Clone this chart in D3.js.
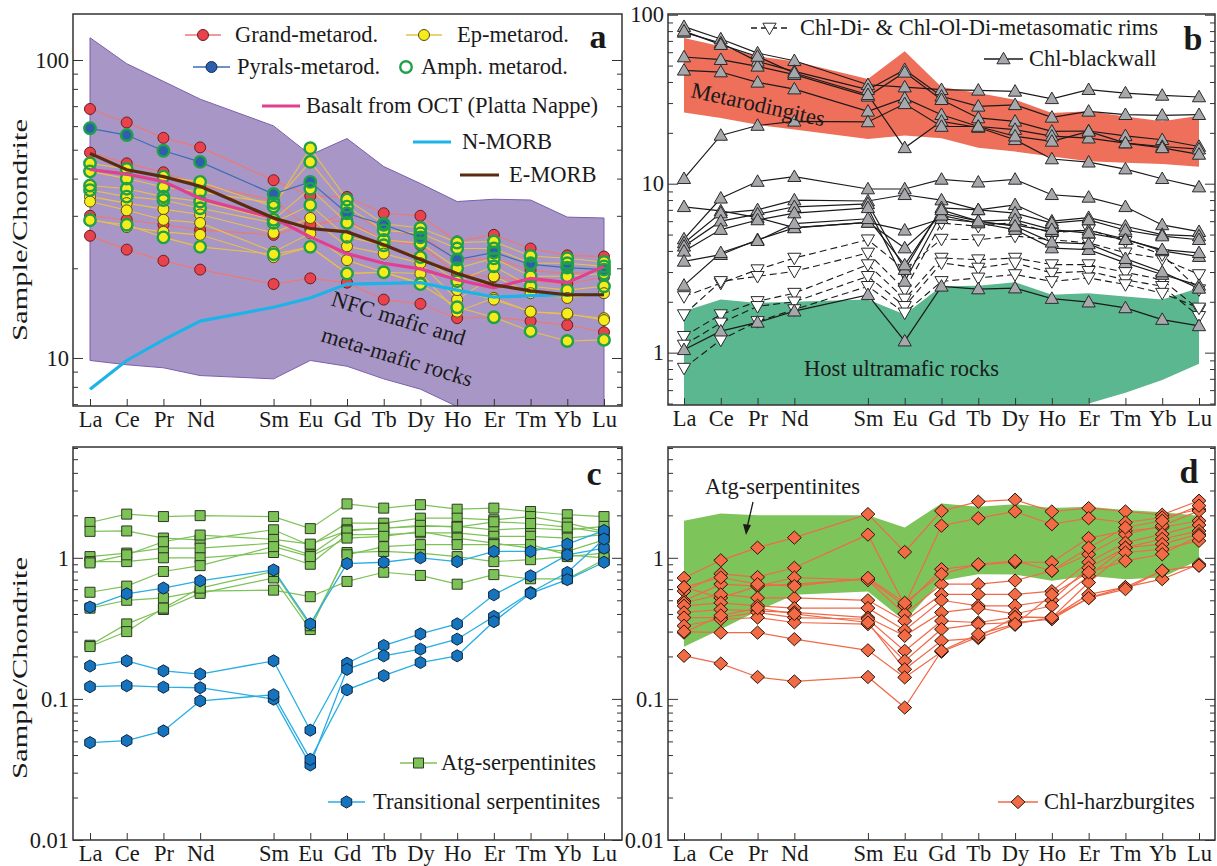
<!DOCTYPE html>
<html><head><meta charset="utf-8">
<script src="https://cdn.jsdelivr.net/npm/d3@7"></script>
<style>
body{margin:0;background:#fff}
svg text{font-family:"Liberation Serif","Times New Roman",serif;fill:#1a1a1a}
</style>
</head><body>
<svg id="chart" width="1217" height="866"></svg>
<script>
// ---------- categories ----------
const REE = ["La","Ce","Pr","Nd","Sm","Eu","Gd","Tb","Dy","Ho","Er","Tm","Yb","Lu"];
const REE_POS = [0,1,2,3,5,6,7,8,9,10,11,12,13,14];

// ---------- panel a ----------
const aEnvUpper = [118.8,97.2,84.8,73.9,60.1,48.0,54.5,43.9,38.5,33.5,34.1,33.9,29.7,29.5];
const aEnvLower = [9.81,9.49,9.27,8.73,8.51,9.81,9.38,8.51,7.86,6.87,5.0,5.0,5.0,5.0];
const aGrand = [
  [68.5,61.7,54.8,50.9,39.5,35.0,34.7,30.6,30.0,24.6,25.9,23.3,22.1,21.9],
  [48.9,45.0,42.0,38.0,33.9,27.2,31.0,26.9,25.9,21.3,21.6,19.7,19.2,19.7],
  [30.0,29.1,28.0,26.9,25.9,28.0,29.0,24.9,23.9,19.2,18.7,18.2,17.7,18.7],
  [25.7,23.1,21.2,19.8,17.7,18.5,17.9,15.7,15.2,13.6,13.7,13.3,12.9,12.2]
];
const aPyrals = [
  [59.0,56.0,49.6,45.5,35.5,39.0,30.6,28.0,25.4,21.4,22.6,20.6,20.1,19.8]
];
const aEp = [
  [45.0,43.1,40.6,39.0,32.2,50.6,34.0,28.2,27.3,24.4,24.6,22.0,21.6,21.0],
  [42.3,40.0,37.5,36.1,33.1,45.5,32.2,26.8,26.2,23.3,23.3,20.8,20.8,20.3],
  [37.9,37.0,34.8,33.5,29.1,37.0,28.4,24.9,24.3,20.0,21.6,18.8,18.8,19.2],
  [36.6,34.8,33.9,31.8,28.4,32.6,25.5,23.9,21.8,18.1,20.3,17.4,16.9,17.4],
  [34.8,33.1,31.6,30.3,26.3,29.5,23.7,22.4,20.8,15.7,18.8,16.5,15.9,16.5],
  [33.5,31.3,29.1,28.4,22.7,26.2,21.3,19.4,19.2,14.3,15.9,14.3,14.0,13.6],
  [29.2,27.5,26.5,25.9,21.8,23.6,19.2,19.4,17.9,16.9,15.7,14.3,14.1,13.4],
  [29.0,28.0,25.4,23.6,22.3,23.6,19.2,19.4,17.7,14.8,13.7,12.3,11.4,11.5]
];
const aAmph = [
  [59.0,56.0,49.6,45.5,35.5,39.0,30.6,28.0,25.4,21.4,22.6,20.6,20.1,19.8],
  [45.0,43.1,40.6,39.0,32.2,50.6,34.0,28.2,27.3,24.4,24.6,22.0,21.6,21.0],
  [42.3,40.0,37.5,36.1,33.1,45.5,32.2,26.8,26.2,23.3,23.3,20.8,20.8,20.3],
  [37.9,37.0,34.8,33.5,29.1,37.0,28.4,24.9,24.3,20.0,21.6,18.8,18.8,19.2],
  [36.6,34.8,33.9,31.8,28.4,32.6,25.5,23.9,21.8,18.1,20.3,17.4,16.9,17.4],
  [29.0,28.0,25.4,23.6,22.3,23.6,19.2,19.4,17.7,14.8,13.7,12.3,11.4,11.5]
];
const aOCT   = [42.9,41.4,39.1,34.3,29.5,25.5,22.4,20.8,19.9,18.3,17.2,18.5,17.9,20.3];
const aNMORB = [7.86,9.81,11.5,13.3,14.8,15.9,17.7,17.8,17.9,16.9,16.0,16.2,16.3,16.3];
const aEMORB = [48.6,42.8,40.6,37.7,29.5,27.2,26.5,24.0,21.4,19.2,17.6,16.8,16.3,16.3];
const aTicksMajor = [10,100];

// ---------- panel b ----------
const bRodUpper = [72.8,65,56.6,53,41.6,60.7,37.3,34.4,31.4,26.2,26.8,25,23.4,25.2];
const bRodLower = [26.4,24.5,22.3,20.9,18.4,19.3,18.6,16.3,15.5,14.5,13.6,13.3,13.1,12.6];
const bHostUpper = [1.76,2.06,1.97,2.0,2.06,1.68,2.47,2.49,2.61,2.2,2.25,2.15,2.06,2.41];
const bHostLower = [0.3,0.3,0.3,0.3,0.3,0.3,0.3,0.3,0.3,0.3,0.5,0.58,0.69,0.86];
const bBlackwall = [
  [85,71.8,59.3,53.4,38.5,37.3,36,35.7,35.2,31.8,36,34.4,33.3,32.6],
  [78.6,68,53,46.2,36,47.3,32.9,28.7,29.3,24.7,26.8,25.6,25.4,25.6],
  [56.2,54.2,49.5,44.2,32.9,45.6,31.4,24.5,23.4,20.4,20.5,19.2,18.2,16.6],
  [46.9,45.8,39.8,36.3,26.8,32.1,25.6,21.8,20.9,19.1,18.6,17.4,16.6,16],
  [80,66.5,56.6,45.2,33.6,16.3,23.4,21.5,18.2,14,13.4,12.2,10.7,9.55],
  [10.7,19.3,22.1,23.4,23.2,29.7,21.8,21.8,19.1,17.8,20.4,17.4,16.3,14.9],
  [7.3,6.9,6.3,5.5,5.9,5.3,6.2,5.9,5.7,5.2,5.3,4.7,4.0,3.7],
  [4.7,8.2,10.3,11,9.3,9.3,10.6,10.2,10.6,8.6,8.3,7.3,5.7,5.2],
  [4.46,6.7,7.0,8.0,7.9,8.6,8.0,7.0,7.5,6.0,6.3,5.6,5.0,4.9],
  [4.26,6.0,6.6,7.3,7.6,3.1,7.2,7.0,6.7,5.85,6.1,5.3,4.9,4.66],
  [3.98,5.35,6.1,6.7,7.2,2.64,6.7,6.0,6.1,5.35,5.1,4.66,4.07,3.9],
  [3.47,3.8,4.66,5.47,5.9,4.16,6.5,5.85,5.35,4.16,4.07,3.4,2.9,2.5],
  [2.5,3.9,4.6,5.8,6.2,3.3,7.0,6.0,5.6,4.5,4.4,3.6,3.0,2.4],
  [1.04,1.34,1.51,1.76,2.2,1.17,2.47,2.38,2.41,2.09,1.99,1.84,1.57,1.44]
];
const bRims = [
  [2.15,2.58,3.1,3.63,4.66,3.1,4.7,4.66,4.9,4.66,4.46,3.9,3.6,2.9],
  [1.68,2.64,2.83,3.03,3.89,2.36,5.85,5.6,5.9,5.1,5.35,4.56,3.8,2.36],
  [1.25,1.68,2.01,2.25,3.32,2.08,3.63,3.55,3.63,3.32,3.32,2.99,2.7,1.8],
  [1.11,1.5,1.88,2.0,2.83,1.88,3.4,3.17,3.4,2.96,3.03,2.7,2.47,1.64],
  [0.81,1.19,1.53,1.8,2.47,1.72,2.64,2.77,2.9,2.64,2.77,2.53,2.25,1.84]
];
const bTicksMajor = [1,10,100];

// ---------- panel c ----------
const cAtg = [
  [1.78,2.04,1.96,1.99,1.96,1.61,2.41,2.25,2.38,2.21,2.25,2.13,2.02,1.96],
  [1.54,1.55,1.38,1.34,1.58,1.22,1.76,1.76,1.91,1.91,1.86,1.96,1.76,1.54],
  [1.02,1.08,1.17,1.17,1.27,1.05,1.58,1.62,1.67,1.67,1.58,1.62,1.58,1.67],
  [0.94,0.94,1.0,1.0,1.09,0.9,1.46,1.46,1.5,1.5,1.42,1.42,1.38,1.46],
  [0.92,1.05,1.3,1.45,1.35,1.25,1.55,1.62,1.7,1.65,1.8,1.75,1.65,1.5],
  [0.57,0.63,0.8,0.88,1.2,1.02,1.38,1.42,1.54,1.38,1.27,1.17,1.11,1.34],
  [0.44,0.5,0.52,0.58,0.59,0.53,0.68,0.79,0.75,0.65,0.76,0.71,0.71,0.97],
  [0.24,0.34,0.43,0.56,0.72,0.31,1.09,1.11,1.08,1.02,0.94,0.97,1.02,1.08],
  [0.235,0.3,0.44,0.61,0.8,0.33,1.05,1.2,1.24,1.24,1.24,1.24,1.05,1.0]
];
const cTrans = [
  [0.447,0.556,0.61,0.687,0.82,0.34,0.91,0.93,1.0,0.94,1.11,1.11,1.25,1.56],
  [0.171,0.186,0.158,0.15,0.186,0.06,0.179,0.239,0.289,0.34,0.547,0.745,1.05,1.17],
  [0.122,0.124,0.121,0.12,0.0995,0.034,0.162,0.202,0.225,0.265,0.384,0.568,0.787,1.36],
  [0.049,0.0506,0.0593,0.0968,0.107,0.0373,0.116,0.146,0.181,0.202,0.353,0.56,0.7,0.93]
];
const cTicksMajor = [0.01,0.1,1];

// ---------- panel d ----------
const dAtgUpper = [1.83,2.06,2.0,2.0,2.0,1.64,2.43,2.3,2.4,2.25,2.3,2.18,2.1,1.99];
const dAtgLower = [0.234,0.312,0.42,0.547,0.577,0.357,0.687,0.766,0.76,0.687,0.745,0.706,0.725,0.963];
const dHarz = [
  [0.72,0.96,1.18,1.39,2.04,1.1,2.15,2.5,2.58,2.13,2.25,2.13,2.02,2.54],
  [0.58,0.77,0.73,0.85,1.46,0.46,1.69,1.91,2.13,1.73,1.91,1.78,1.93,2.21],
  [0.62,0.52,0.63,0.65,0.706,0.457,0.83,0.89,0.93,0.93,1.38,1.55,1.64,1.83],
  [0.495,0.65,0.63,0.725,0.694,0.4,0.65,0.65,0.69,0.81,1.06,1.47,1.69,2.15],
  [0.48,0.55,0.52,0.52,0.5,0.357,0.55,0.55,0.55,0.58,0.93,1.28,1.47,1.71],
  [0.457,0.48,0.457,0.44,0.44,0.307,0.5,0.457,0.457,0.5,0.85,1.18,1.36,1.55],
  [0.41,0.43,0.42,0.41,0.377,0.28,0.41,0.44,0.4,0.457,0.745,1.18,1.25,1.47],
  [0.377,0.377,0.41,0.377,0.367,0.219,0.357,0.348,0.38,0.377,0.668,1.09,1.15,1.32],
  [0.33,0.367,0.377,0.348,0.339,0.186,0.312,0.339,0.348,0.367,0.52,0.62,0.706,0.9],
  [0.295,0.39,0.44,0.4,0.348,0.162,0.258,0.27,0.335,0.55,0.79,0.95,1.06,1.43],
  [0.3,0.295,0.295,0.265,0.221,0.142,0.216,0.275,0.38,0.377,0.55,0.62,0.81,0.88],
  [0.202,0.178,0.143,0.133,0.143,0.0868,0.219,0.288,0.339,0.377,0.518,0.6,0.81,0.88],
  [0.62,0.725,0.65,0.63,0.72,0.48,0.766,0.9,0.95,0.81,1.18,1.64,1.83,2.34]
];
const dTicksMajor = [0.01,0.1,1];

// ---------- drawing ----------
const FS = 22.5;
const svg = d3.select("#chart");
const defs = svg.append("defs");

function markerPath(shape, s) {
  switch (shape) {
    case "triUp": return `M0,${-s*0.56}L${s*0.55},${s*0.40}L${-s*0.55},${s*0.40}Z`;
    case "triDown": return `M0,${s*0.56}L${s*0.55},${-s*0.40}L${-s*0.55},${-s*0.40}Z`;
    case "square": return `M${-s/2},${-s/2}h${s}v${s}h${-s}Z`;
    case "diamond": return `M0,${-s*0.55}L${s*0.58},0L0,${s*0.55}L${-s*0.58},0Z`;
    case "hex": { const r = s*0.55; let p = "";
      for (let k=0;k<6;k++){ const a = Math.PI/6 + k*Math.PI/3; p += (k?"L":"M")+(r*Math.cos(a)).toFixed(2)+","+(r*Math.sin(a)).toFixed(2);} return p+"Z"; }
  }
}
function marker(g, cx, cy, m) {
  if (m.shape === "circle") {
    g.append("circle").attr("cx",cx).attr("cy",cy).attr("r",m.size/2)
      .attr("fill",m.fill).attr("stroke",m.stroke).attr("stroke-width",m.sw||1);
  } else {
    g.append("path").attr("d",markerPath(m.shape,m.size)).attr("transform",`translate(${cx},${cy})`)
      .attr("fill",m.fill).attr("stroke",m.stroke).attr("stroke-width",m.sw||1);
  }
}

function makePanel(cfg) {
  const g = svg.append("g");
  const x = d3.scaleLinear().domain([0,14]).range([cfg.xLa, cfg.xLu]);
  const y = d3.scaleLog().domain(cfg.yDomain).range([cfg.y1, cfg.y0]);
  const id = "clip"+cfg.name;
  defs.append("clipPath").attr("id",id).append("rect")
    .attr("x",cfg.x0).attr("y",cfg.y0).attr("width",cfg.x1-cfg.x0).attr("height",cfg.y1-cfg.y0);
  const plot = g.append("g").attr("clip-path",`url(#${id})`);
  const [lo, hi] = cfg.yDomain;
  const minors = [];
  for (let e = Math.floor(Math.log10(lo)); e <= Math.ceil(Math.log10(hi)); e++) {
    for (let k = 2; k <= 9; k++) { const v = k*Math.pow(10,e); if (v>=lo && v<=hi) minors.push(v); }
  }
  const fmt = d => (d >= 1 ? d3.format("d")(d) : String(d));
  const axG = g.append("g");
  axG.append("g").attr("transform",`translate(${cfg.x0},0)`)
    .call(d3.axisLeft(y).tickValues(minors).tickSize(-5).tickFormat(""));
  axG.append("g").attr("transform",`translate(${cfg.x0},0)`)
    .call(d3.axisLeft(y).tickValues(cfg.majors).tickSize(-10).tickPadding(4).tickFormat(fmt));
  axG.append("g").attr("transform",`translate(${cfg.x1},0)`)
    .call(d3.axisRight(y).tickValues(minors).tickSize(-5).tickFormat(""));
  axG.append("g").attr("transform",`translate(${cfg.x1},0)`)
    .call(d3.axisRight(y).tickValues(cfg.majors).tickSize(-10).tickFormat(""));
  axG.append("g").attr("transform",`translate(0,${cfg.y1})`)
    .call(d3.axisBottom(x).tickValues(REE_POS).tickSize(-7).tickPadding(5).tickFormat((d,i)=>REE[i]));
  axG.selectAll(".domain").remove();
  axG.selectAll(".tick line").attr("stroke","#333").attr("stroke-width",1);
  axG.selectAll(".tick text").attr("font-size",FS).attr("font-family","Liberation Serif").attr("fill","#1a1a1a");
  g.append("rect").attr("x",cfg.x0).attr("y",cfg.y0).attr("width",cfg.x1-cfg.x0).attr("height",cfg.y1-cfg.y0)
    .attr("fill","none").attr("stroke","#333").attr("stroke-width",1.5);
  const line = d3.line().x((d,i)=>x(REE_POS[i])).y(d=>y(d));
  const area = (up, low) => d3.area().x((d,i)=>x(REE_POS[i])).y0((d,i)=>y(low[i])).y1(d=>y(d))(up);
  return {g, plot, x, y, line, area};
}

function series(P, list, lineOpts, m, drawLine=true) {
  if (drawLine) list.forEach(v => P.plot.append("path").attr("d",P.line(v)).attr("fill","none")
      .attr("stroke",lineOpts.color).attr("stroke-width",lineOpts.width||1.2)
      .attr("stroke-dasharray",lineOpts.dash||null));
  if (m) list.forEach(v => v.forEach((d,i)=> marker(P.plot, P.x(REE_POS[i]), P.y(d), m)));
}
function refLine(P, v, color, w) {
  P.plot.append("path").attr("d",P.line(v)).attr("fill","none").attr("stroke",color).attr("stroke-width",w);
}
function txt(g, x, y, s, size, opts={}) {
  const t = g.append("text").attr("x",x).attr("y",y).attr("font-size",size).text(s);
  if (opts.anchor) t.attr("text-anchor",opts.anchor);
  if (opts.bold) t.attr("font-weight","bold");
  if (opts.len) t.attr("textLength",opts.len).attr("lengthAdjust","spacingAndGlyphs");
  if (opts.rotate !== undefined) t.attr("transform",`rotate(${opts.rotate},${x},${y})`);
  return t;
}
function legendItem(g, x1, x2, y, lineColor, m, label, tx, dash, lw) {
  if (lineColor) g.append("line").attr("x1",x1).attr("x2",x2).attr("y1",y).attr("y2",y)
      .attr("stroke",lineColor).attr("stroke-width",lw||1.3).attr("stroke-dasharray",dash||null);
  if (m) marker(g, (x1+x2)/2, y, m);
  txt(g, tx, y+7, label, FS);
}

// ===== Panel a =====
const A = makePanel({name:"a", x0:73, x1:622, y0:14, y1:406, xLa:90, xLu:604, yDomain:[6.90,142.7], majors:aTicksMajor});
A.plot.append("path").attr("d",A.area(aEnvUpper,aEnvLower)).attr("fill","#a897c6").attr("stroke","#7a5fae").attr("stroke-width",1);
const mGrand = {shape:"circle", size:11, fill:"#e8424c", stroke:"#6b1d1d", sw:1};
const mEp = {shape:"circle", size:11, fill:"#f6ec1c", stroke:"#5a4a10", sw:1};
const mPy = {shape:"circle", size:11, fill:"#2c5fae", stroke:"#1a2f55", sw:1};
const mAmph = {shape:"circle", size:11.5, fill:"none", stroke:"#1fa14a", sw:2.4};
series(A, aGrand, {color:"#ee7873", width:1.2}, null);
series(A, aEp, {color:"#e9c04a", width:1.1}, null);
series(A, aPyrals, {color:"#3b6db6", width:1.2}, null);
series(A, aGrand, {}, mGrand, false);
series(A, aEp, {}, mEp, false);
series(A, aPyrals, {}, mPy, false);
series(A, aAmph, {}, mAmph, false);
refLine(A, aNMORB, "#1db3e8", 3.2);
refLine(A, aOCT, "#e0408f", 3.2);
refLine(A, aEMORB, "#5b2b0f", 3.2);
txt(A.g, 330, 305, "NFC mafic and", FS, {rotate:17});
txt(A.g, 320, 341, "meta-mafic rocks", FS, {rotate:17});
legendItem(A.g, 185, 221, 35, "#ee7873", mGrand, "Grand-metarod.", 235);
legendItem(A.g, 406, 442, 35, "#e9c04a", mEp, "Ep-metarod.", 457);
legendItem(A.g, 193, 230, 67, "#3b6db6", mPy, "Pyrals-metarod.", 237);
legendItem(A.g, 396, 416, 67, null, mAmph, "Amph. metarod.", 421);
legendItem(A.g, 262, 300, 106, "#e0408f", null, "Basalt from OCT (Platta Nappe)", 306, null, 3.2);
legendItem(A.g, 413, 451, 142, "#1db3e8", null, "N-MORB", 462, null, 3.2);
legendItem(A.g, 460, 499, 175, "#5b2b0f", null, "E-MORB", 509, null, 3.2);
txt(A.g, 598, 48, "a", 34, {anchor:"middle", bold:true});
txt(svg, 27, 230, "Sample/Chondrite", 22, {anchor:"middle", rotate:-90, len:222});

// ===== Panel b =====
const B = makePanel({name:"b", x0:668, x1:1215, y0:14, y1:405, xLa:684, xLu:1199, yDomain:[0.49,101], majors:bTicksMajor});
B.plot.append("path").attr("d",B.area(bRodUpper,bRodLower)).attr("fill","#ee6f5a");
B.plot.append("path").attr("d",B.area(bHostUpper,bHostLower)).attr("fill","#5bb78f");
const mBW = {shape:"triUp", size:12, fill:"#a7a8ac", stroke:"#2a2a2a", sw:1};
const mRim = {shape:"triDown", size:12, fill:"#ffffff", stroke:"#2a2a2a", sw:1};
series(B, bRims, {color:"#1a1a1a", width:1.1, dash:"7,4"}, null);
series(B, bBlackwall, {color:"#1a1a1a", width:1.2}, null);
series(B, bRims, {}, mRim, false);
series(B, bBlackwall, {}, mBW, false);
txt(B.g, 690, 97, "Metarodingites", FS, {rotate:12.5});
txt(B.g, 804, 376, "Host ultramafic rocks", FS);
legendItem(B.g, 751, 788, 28, "#1a1a1a", mRim, "Chl-Di- & Chl-Ol-Di-metasomatic rims", 800, "6,4");
legendItem(B.g, 984, 1023, 59, "#1a1a1a", mBW, "Chl-blackwall", 1029);
txt(B.g, 1193, 50, "b", 34, {anchor:"middle", bold:true});

// ===== Panel c =====
const C = makePanel({name:"c", x0:73, x1:622, y0:447, y1:840, xLa:90, xLu:604, yDomain:[0.01,6.1], majors:cTicksMajor});
const mAtg = {shape:"square", size:10, fill:"#7cc257", stroke:"#2b3a20", sw:1};
const mTr = {shape:"hex", size:11, fill:"#1673bd", stroke:"#0c2540", sw:1};
series(C, cAtg, {color:"#7cc257", width:1.2}, null);
series(C, cTrans, {color:"#27aee3", width:1.3}, null);
series(C, cAtg, {}, mAtg, false);
series(C, cTrans, {}, mTr, false);
legendItem(C.g, 400, 437, 763, "#7cc257", mAtg, "Atg-serpentinites", 441);
legendItem(C.g, 328, 365, 802, "#27aee3", mTr, "Transitional serpentinites", 373);
txt(C.g, 594, 485, "c", 34, {anchor:"middle", bold:true});
txt(svg, 27, 668, "Sample/Chondrite", 22, {anchor:"middle", rotate:-90, len:222});

// ===== Panel d =====
const D = makePanel({name:"d", x0:668, x1:1215, y0:447, y1:840, xLa:684, xLu:1199, yDomain:[0.01,6.1], majors:dTicksMajor});
D.plot.append("path").attr("d",D.area(dAtgUpper,dAtgLower)).attr("fill","#7dc45b");
const mHz = {shape:"diamond", size:12, fill:"#f36b45", stroke:"#2a1408", sw:1};
series(D, dHarz, {color:"#f06a48", width:1.2}, null);
series(D, dHarz, {}, mHz, false);
txt(D.g, 705, 494, "Atg-serpentinites", FS);
D.g.append("line").attr("x1",753).attr("y1",502).attr("x2",747).attr("y2",528).attr("stroke","#1a1a1a").attr("stroke-width",1.3);
D.g.append("path").attr("d","M743,524L746,535L751,525Z").attr("fill","#1a1a1a");
legendItem(D.g, 998, 1038, 802, "#f06a48", mHz, "Chl-harzburgites", 1044);
txt(D.g, 1189, 483, "d", 34, {anchor:"middle", bold:true});
</script>
</body></html>
